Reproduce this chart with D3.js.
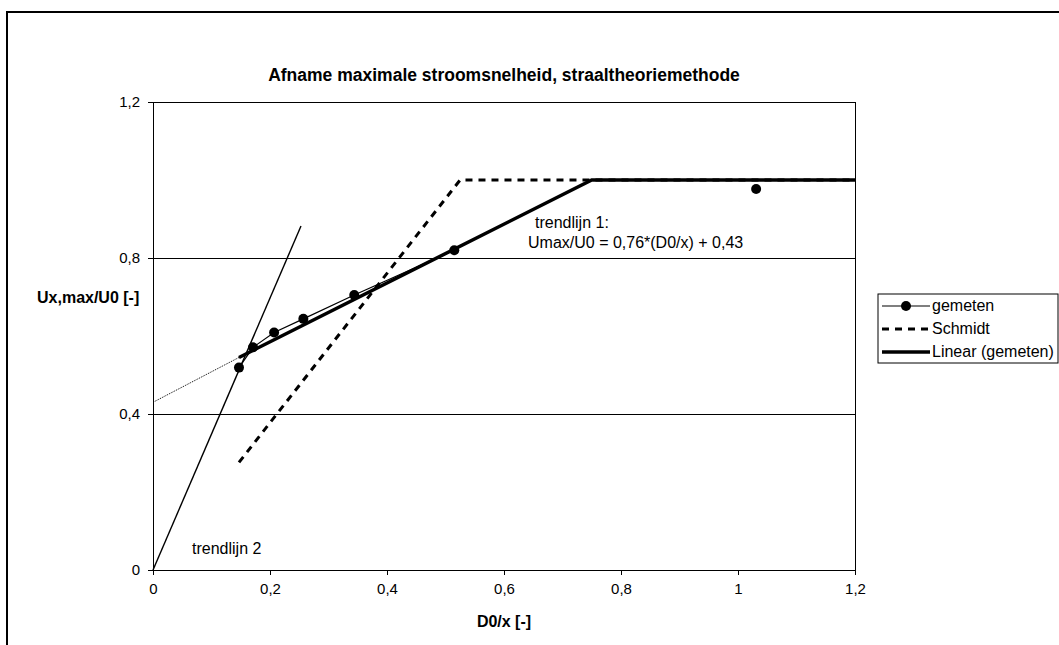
<!DOCTYPE html>
<html>
<head>
<meta charset="utf-8">
<script src="https://cdn.jsdelivr.net/npm/d3@7"></script>
<style>
	body { margin: 0; background: #fff; }
	svg { display: block; font-family: 'Liberation Sans', Arial, sans-serif; }
	.axis path, .axis line { stroke: #000; shape-rendering: crispEdges; }
	.grid { stroke: #000; stroke-width: 1; shape-rendering: crispEdges; }
	.label { font-size: 16px; fill: #000; }
</style>
</head>
<body>
<div class="svg-container"></div>
<script>
// measured points (D0/x, Umax/U0)
var gemetenX = [0.147, 0.171, 0.207, 0.257, 0.344, 0.515];
var gemetenY = [0.519, 0.571, 0.609, 0.644, 0.705, 0.820];
// last measurement, drawn as marker only
var losX = [1.031];
var losY = [0.977];

var schmidtX = [0.147, 0.525, 1.2];
var schmidtY = [0.276, 1.0, 1.0];

var linearX = [0.147, 0.75, 1.2];
var linearY = [0.545, 1.0, 1.0];

// dotted extension of trendlijn 1 towards the y axis
var extX = [0, 0.147];
var extY = [0.43, 0.545];

var trend2X = [0, 0.253];
var trend2Y = [0, 0.882];

var xTicks = [0, 0.2, 0.4, 0.6, 0.8, 1, 1.2];
var yTicks = [0, 0.4, 0.8, 1.2];
var gridValues = [0.4, 0.8];

var legendNames = ['gemeten', 'Schmidt', 'Linear (gemeten)'];

var width = 1059,
	height = 645;

var toPoints = function(xs, ys) {
	return xs.map(function(x, i) {
		return { x: x, y: ys[i] };
	});
};

var fmt = function(d) {
	return String(d).replace('.', ',');
};

var xScale = d3.scaleLinear()
	.domain([0, 1.2])
	.range([153, 855]);

var yScale = d3.scaleLinear()
	.domain([0, 1.2])
	.range([570, 102]);

var line = d3.line()
	.x(function(d) { return xScale(d.x); })
	.y(function(d) { return yScale(d.y); });

var svg = d3.select('.svg-container')
	.append('svg')
	.attr('width', width)
	.attr('height', height);

// outer chart frame
svg.append('rect')
	.attr('x', 7)
	.attr('y', 12)
	.attr('width', width + 20)
	.attr('height', height + 20)
	.attr('fill', 'none')
	.attr('stroke', '#000')
	.attr('stroke-width', 2);

svg.append('text')
	.text('Afname maximale stroomsnelheid, straaltheoriemethode')
	.attr('x', 504)
	.attr('y', 81)
	.attr('text-anchor', 'middle')
	.style('font-size', '17.5px')
	.style('font-weight', 'bold');

// gridlines and plot border
svg.selectAll('.grid')
	.data(gridValues)
	.enter()
	.append('line')
	.attr('class', 'grid')
	.attr('x1', xScale(0))
	.attr('x2', xScale(1.2))
	.attr('y1', function(d) { return yScale(d); })
	.attr('y2', function(d) { return yScale(d); });

svg.append('line')
	.attr('class', 'grid')
	.attr('x1', xScale(0))
	.attr('x2', xScale(1.2))
	.attr('y1', yScale(1.2))
	.attr('y2', yScale(1.2));

svg.append('line')
	.attr('class', 'grid')
	.attr('x1', xScale(1.2))
	.attr('x2', xScale(1.2))
	.attr('y1', yScale(1.2))
	.attr('y2', yScale(0));

var xAxis = d3.axisBottom()
	.scale(xScale)
	.tickValues(xTicks)
	.tickSize(5)
	.tickPadding(8)
	.tickSizeOuter(0)
	.tickFormat(fmt);

var yAxis = d3.axisLeft()
	.scale(yScale)
	.tickValues(yTicks)
	.tickSize(5)
	.tickPadding(8)
	.tickSizeOuter(0)
	.tickFormat(fmt);

svg.append('g')
	.attr('class', 'axis')
	.attr('transform', 'translate(0, ' + yScale(0) + ')')
	.call(xAxis);

svg.append('g')
	.attr('class', 'axis')
	.attr('transform', 'translate(' + xScale(0) + ', 0)')
	.call(yAxis);

d3.selectAll('.axis')
	.attr('font-family', null)
	.attr('font-size', null);

d3.selectAll('.axis text')
	.style('font-size', '15px')
	.style('fill', '#000');

d3.selectAll('.axis path').attr('stroke-width', 1.5);

svg.append('text')
	.text('D0/x [-]')
	.attr('x', 504)
	.attr('y', 627)
	.attr('text-anchor', 'middle')
	.style('font-size', '16px')
	.style('font-weight', 'bold');

svg.append('text')
	.text('Ux,max/U0 [-]')
	.attr('x', 37)
	.attr('y', 303)
	.style('font-size', '16px')
	.style('font-weight', 'bold');

// trendlines
svg.append('path')
	.datum(toPoints(extX, extY))
	.attr('d', line)
	.attr('fill', 'none')
	.attr('stroke', '#000')
	.attr('stroke-width', 1)
	.attr('stroke-dasharray', '1,1');

svg.append('path')
	.datum(toPoints(trend2X, trend2Y))
	.attr('d', line)
	.attr('fill', 'none')
	.attr('stroke', '#000')
	.attr('stroke-width', 1.4);

svg.append('path')
	.datum(toPoints(schmidtX, schmidtY))
	.attr('d', line)
	.attr('fill', 'none')
	.attr('stroke', '#000')
	.attr('stroke-width', 3)
	.attr('stroke-dasharray', '7,6');

svg.append('path')
	.datum(toPoints(linearX, linearY))
	.attr('d', line)
	.attr('fill', 'none')
	.attr('stroke', '#000')
	.attr('stroke-width', 3.5);

// measured series
svg.append('path')
	.datum(toPoints(gemetenX, gemetenY))
	.attr('d', line)
	.attr('fill', 'none')
	.attr('stroke', '#000')
	.attr('stroke-width', 1.2);

svg.selectAll('.dot')
	.data(toPoints(gemetenX, gemetenY).concat(toPoints(losX, losY)))
	.enter()
	.append('circle')
	.attr('class', 'dot')
	.attr('cx', function(d) { return xScale(d.x); })
	.attr('cy', function(d) { return yScale(d.y); })
	.attr('r', 5)
	.attr('fill', '#000');

// annotations
svg.append('text')
	.attr('class', 'label')
	.text('trendlijn 1:')
	.attr('x', 535)
	.attr('y', 228);

svg.append('text')
	.attr('class', 'label')
	.text('Umax/U0 = 0,76*(D0/x) + 0,43')
	.attr('x', 528)
	.attr('y', 248);

svg.append('text')
	.attr('class', 'label')
	.text('trendlijn 2')
	.attr('x', 192)
	.attr('y', 554);

// legend
var legend = svg.append('g')
	.attr('transform', 'translate(878, 294)');

legend.append('rect')
	.attr('width', 180)
	.attr('height', 69)
	.attr('fill', '#fff')
	.attr('stroke', '#000');

var rows = legend.selectAll('.row')
	.data(legendNames)
	.enter()
	.append('g')
	.attr('class', 'row')
	.attr('transform', function(d, i) { return 'translate(0, ' + (12 + i * 23) + ')'; });

rows.append('line')
	.attr('x1', 4)
	.attr('x2', 52)
	.attr('y1', 0)
	.attr('y2', 0)
	.attr('stroke', '#000')
	.attr('stroke-width', function(d, i) { return [1.2, 3, 3.5][i]; })
	.attr('stroke-dasharray', function(d, i) { return i === 1 ? '7,6' : null; });

rows.filter(function(d, i) { return i === 0; })
	.append('circle')
	.attr('cx', 28)
	.attr('cy', 0)
	.attr('r', 5)
	.attr('fill', '#000');

rows.append('text')
	.attr('class', 'label')
	.text(function(d) { return d; })
	.attr('x', 54)
	.attr('y', 5);
</script>
</body>
</html>
